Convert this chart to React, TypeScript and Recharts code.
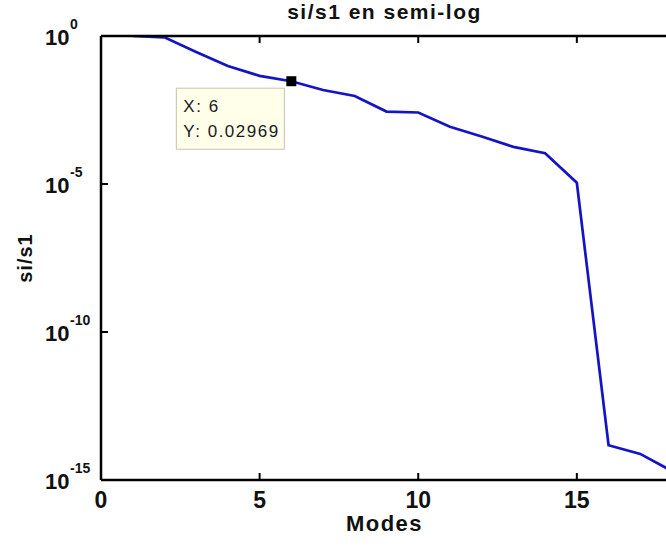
import { LineChart, Line, XAxis, YAxis, ReferenceDot } from "recharts";

// singular value ratios si/s1 per mode
const modes = [1, 2, 3, 4, 5, 6, 7, 8, 9, 10, 11, 12, 13, 14, 15, 16, 17, 18];
const ratios = [
  1, 0.9, 0.29, 0.097, 0.045, 0.02969, 0.015, 0.0094, 0.0028, 0.0026, 8.6e-4, 4.0e-4, 1.8e-4, 1.1e-4, 1.1e-5,
  1.5e-14, 7.6e-15, 2e-15,
];
const xTicks = [0, 5, 10, 15];
const yTicks = [1e-15, 1e-10, 1e-5, 1];
const tipMode = 6;
const tipValue = 0.02969;

const data = modes.map((m, i) => ({ mode: m, ratio: ratios[i] }));

const font = "'Liberation Sans', Arial, Helvetica, sans-serif";

function BottomTick({ x, y, payload }: any) {
  return (
    <g>
      <line x1={x} y1={y} x2={x} y2={y - 7} stroke="#000" strokeWidth={2} />
      <text x={x} y={y + 28} textAnchor="middle" fontSize={23} fontWeight="bold" fontFamily={font} fill="#111">
        {payload.value}
      </text>
    </g>
  );
}

function TopTick({ x, y }: any) {
  return <line x1={x} y1={y} x2={x} y2={y + 7} stroke="#000" strokeWidth={2} />;
}

function LeftTick({ x, y, payload }: any) {
  const exp = Math.round(Math.log10(payload.value));
  return (
    <g>
      <line x1={x} y1={y} x2={x + 7} y2={y} stroke="#000" strokeWidth={2} />
      <text x={x - 56} y={y + 9} fontSize={22} fontWeight="bold" fontFamily={font} fill="#111">
        10
      </text>
      <text x={x - 31} y={y - 7} fontSize={14} fontWeight="bold" fontFamily={font} fill="#111">
        {exp}
      </text>
    </g>
  );
}

function DataTip({ cx, cy }: any) {
  return (
    <g>
      <rect x={cx - 115} y={cy + 7} width={108} height={61} fill="#ffffea" stroke="#c4c4b4" strokeWidth={1} />
      <text x={cx - 108} y={cy + 31} fontSize={17} letterSpacing={1.5} fontFamily={font} fill="#1a1a1a">
        X: {tipMode}
      </text>
      <text x={cx - 108} y={cy + 56} fontSize={17} letterSpacing={1.5} fontFamily={font} fill="#1a1a1a">
        Y: {tipValue}
      </text>
      <rect x={cx - 5} y={cy - 5} width={10} height={10} fill="#000" />
    </g>
  );
}

export default function App() {
  return (
    <div style={{ position: "absolute", left: 0, top: 0, width: 666, height: 546, overflow: "hidden", background: "#fff" }}>
      <LineChart width={700} height={546} data={data} margin={{ top: 35, right: 28, bottom: 65, left: 100 }}>
        <XAxis
          dataKey="mode"
          type="number"
          domain={[0, 18]}
          ticks={xTicks}
          height={1}
          tickSize={0}
          tickMargin={0}
          tickLine={false}
          tick={<BottomTick />}
          axisLine={{ stroke: "#000", strokeWidth: 2.5 }}
          label={{
            content: ({ viewBox }: any) => (
              <text
                x={viewBox.x + viewBox.width / 2 - 2}
                y={viewBox.y + 51}
                textAnchor="middle"
                fontSize={22}
                fontWeight="bold"
                letterSpacing={1.5}
                fontFamily={font}
                fill="#111"
              >
                Modes
              </text>
            ),
          }}
        />
        <XAxis
          xAxisId="top"
          orientation="top"
          dataKey="mode"
          type="number"
          domain={[0, 18]}
          ticks={xTicks}
          height={1}
          tickSize={0}
          tickMargin={0}
          tickLine={false}
          tick={<TopTick />}
          axisLine={{ stroke: "#000", strokeWidth: 2.5 }}
          label={{
            content: ({ viewBox }: any) => (
              <text
                x={viewBox.x + viewBox.width / 2 - 2}
                y={viewBox.y - 16}
                textAnchor="middle"
                fontSize={21}
                fontWeight="bold"
                letterSpacing={1.5}
                fontFamily={font}
                fill="#111"
              >
                si/s1 en semi-log
              </text>
            ),
          }}
        />
        <YAxis
          scale="log"
          type="number"
          domain={[1e-15, 1]}
          ticks={yTicks}
          allowDataOverflow
          width={1}
          tickSize={0}
          tickMargin={0}
          tickLine={false}
          tick={<LeftTick />}
          axisLine={{ stroke: "#000", strokeWidth: 2.5 }}
          label={{
            content: ({ viewBox }: any) => {
              const cx = viewBox.x + viewBox.width - 76;
              const cy = viewBox.y + viewBox.height / 2;
              return (
                <text
                  x={cx}
                  y={cy}
                  transform={`rotate(-90 ${cx} ${cy})`}
                  textAnchor="middle"
                  dominantBaseline="central"
                  fontSize={20}
                  fontWeight="bold"
                  letterSpacing={1}
                  fontFamily={font}
                  fill="#111"
                >
                  si/s1
                </text>
              );
            },
          }}
        />
        <Line
          type="linear"
          dataKey="ratio"
          stroke="#1414c4"
          strokeWidth={2.7}
          dot={false}
          isAnimationActive={false}
        />
        <ReferenceDot x={tipMode} y={tipValue} ifOverflow="visible" shape={<DataTip />} />
      </LineChart>
    </div>
  );
}
